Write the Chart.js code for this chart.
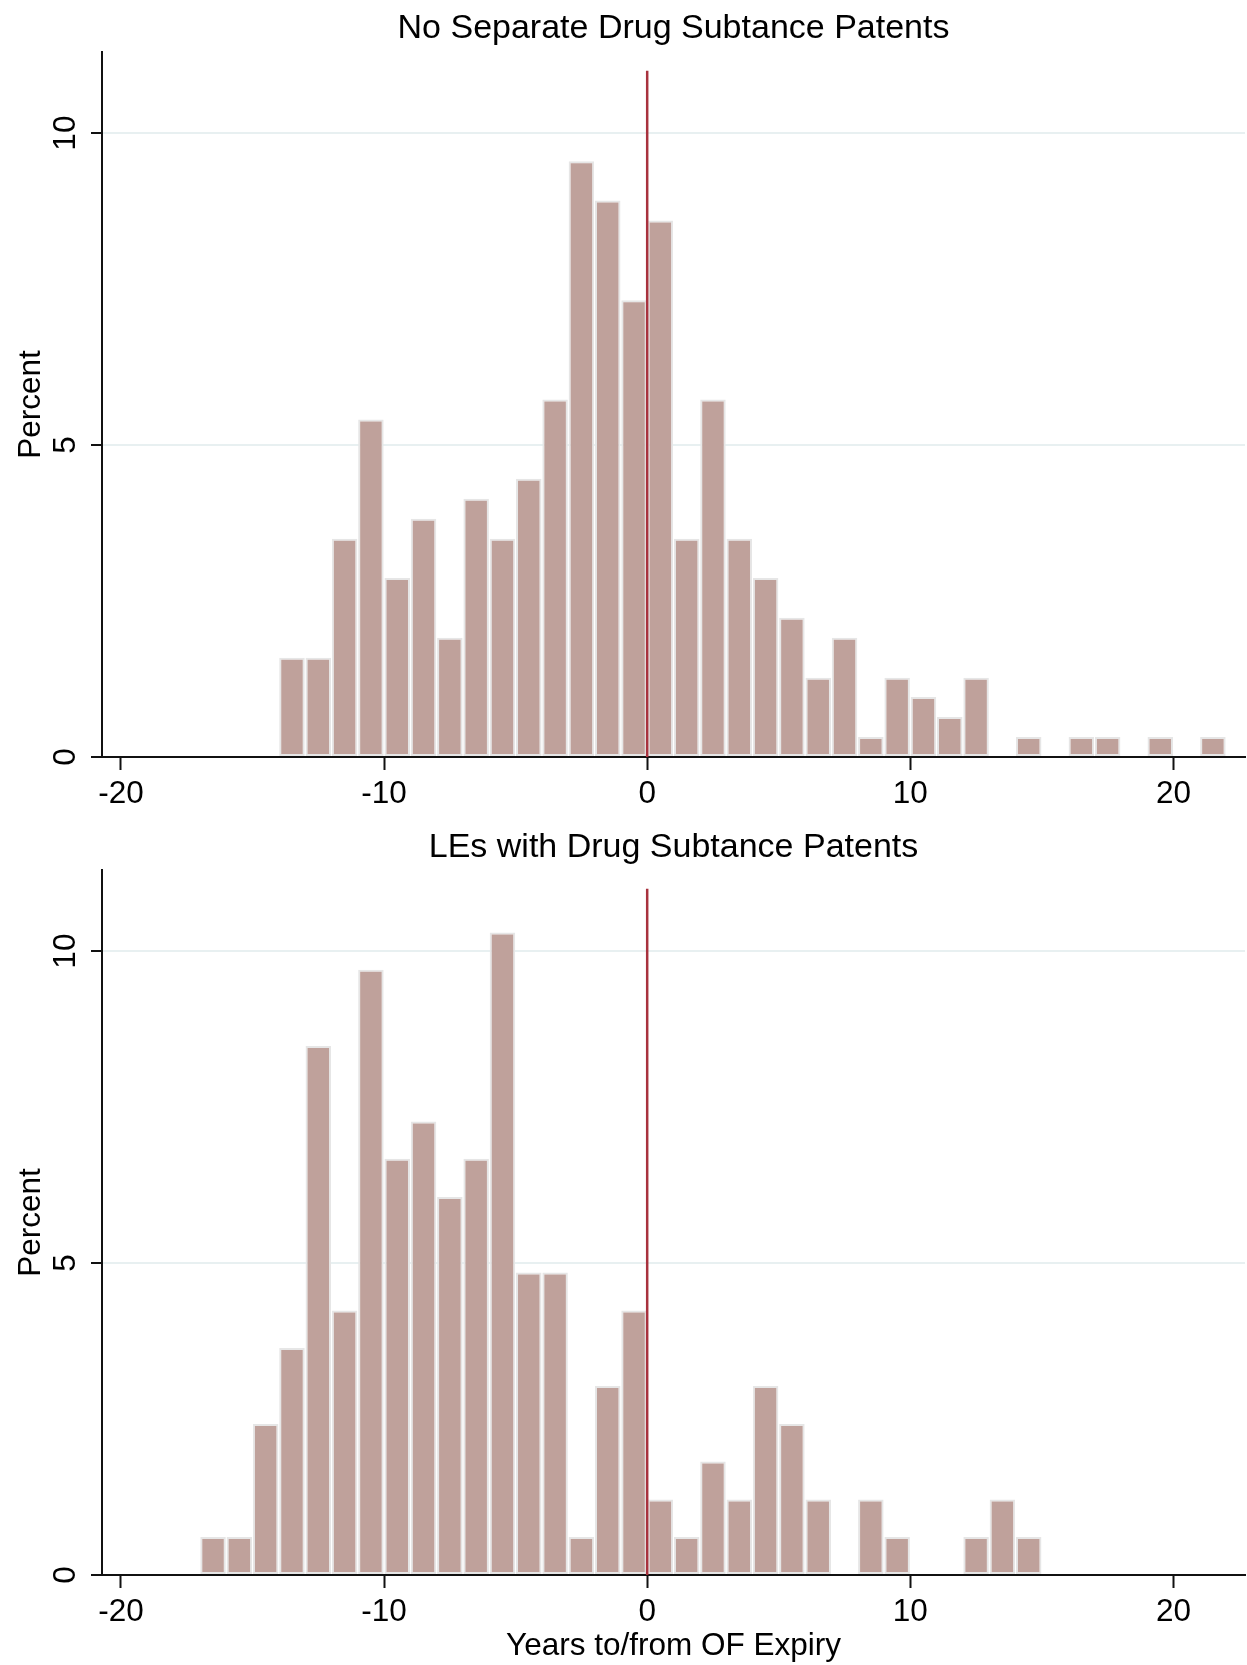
<!DOCTYPE html>
<html>
<head>
<meta charset="utf-8">
<script src="https://cdn.jsdelivr.net/npm/chart.js@4.4.1/dist/chart.umd.min.js"></script>
<style>
  body { margin: 0; background: #fff; width: 1247px; height: 1665px; position: relative; overflow: hidden; }
  canvas { position: absolute; left: 0; }
  #topChart { top: 0; }
  #bottomChart { top: 820px; }
</style>
</head>
<body>
<canvas id="topChart" width="1247" height="820"></canvas>
<canvas id="bottomChart" width="1247" height="845"></canvas>
<script>
// Bin centres (years to/from OF expiry, 1-year bins)
const topBins = [-13.5, -12.5, -11.5, -10.5, -9.5, -8.5, -7.5, -6.5, -5.5, -4.5, -3.5, -2.5,
    -1.5, -0.5, 0.5, 1.5, 2.5, 3.5, 4.5, 5.5, 6.5, 7.5, 8.5, 9.5, 10.5, 11.5, 12.5, 13.5,
    14.5, 15.5, 16.5, 17.5, 18.5, 19.5, 20.5, 21.5];
// Percent, no separate drug substance patents
const topPercent = [1.59, 1.59, 3.50, 5.41, 2.87, 3.82, 1.91, 4.14, 3.50, 4.46, 5.73, 9.55,
    8.92, 7.32, 8.60, 3.50, 5.73, 3.50, 2.87, 2.23, 1.27, 1.91, 0.32, 1.27, 0.96, 0.64, 1.27, null,
    0.32, null, 0.32, 0.32, null, 0.32, null, 0.32];

const bottomBins = [-16.5, -15.5, -14.5, -13.5, -12.5, -11.5, -10.5, -9.5, -8.5, -7.5, -6.5,
    -5.5, -4.5, -3.5, -2.5, -1.5, -0.5, 0.5, 1.5, 2.5, 3.5, 4.5, 5.5, 6.5, 7.5, 8.5, 9.5, 10.5,
    11.5, 12.5, 13.5, 14.5];
// Percent, LEs with drug substance patents
const bottomPercent = [0.61, 0.61, 2.42, 3.64, 8.48, 4.24, 9.70, 6.67, 7.27, 6.06, 6.67,
    10.30, 4.85, 4.85, 0.61, 3.03, 4.24, 1.21, 0.61, 1.82, 1.21, 3.03, 2.42, 1.21, null, 1.21, 0.61, null,
    null, 0.61, 1.21, 0.61];

const xTicks = [-20, -10, 0, 10, 20];
const yTicks = [0, 5, 10];
const xRange = [-20.72, 22.72];
const yMax = 11.3;
const expiryLine = [0, 11];   // vertical reference line at x = 0

const FONT = "'Liberation Sans', Arial, sans-serif";

// Draws titles, rotated y tick labels and axis titles
const textPlugin = {
    id: 'statText',
    afterDraw(chart, args, opts) {
        const ctx = chart.ctx;
        const area = chart.chartArea;
        const yScale = chart.scales.y;
        ctx.save();
        ctx.fillStyle = '#000';
        ctx.textAlign = 'center';
        ctx.textBaseline = 'alphabetic';

        // title
        ctx.font = '34px ' + FONT;
        ctx.fillText(opts.title, (area.left + area.right) / 2, opts.titleY);

        ctx.font = '31.5px ' + FONT;
        // y tick labels (read bottom to top)
        yTicks.forEach((v) => {
            const py = yScale.getPixelForValue(v);
            ctx.save();
            ctx.translate(75, py);
            ctx.rotate(-Math.PI / 2);
            ctx.fillText(String(v), 0, 0);
            ctx.restore();
        });

        // y axis title
        ctx.save();
        ctx.translate(40, (area.top + area.bottom) / 2);
        ctx.rotate(-Math.PI / 2);
        ctx.fillText('Percent', 0, 0);
        ctx.restore();

        // x axis title
        if (opts.xTitle) {
            ctx.fillText(opts.xTitle, (area.left + area.right) / 2, opts.xTitleY);
        }
        ctx.restore();
    }
};

function makeChart(id, bins, values, opts) {
    const barData = bins.map((b, i) => ({ x: b, y: values[i] }));

    const data = {
        datasets: [{
            type: 'line',
            data: [{ x: 0, y: expiryLine[0] }, { x: 0, y: expiryLine[1] }],
            borderColor: '#a8323e',
            borderWidth: 2.5,
            pointRadius: 0,
            order: 0
        }, {
            type: 'bar',
            data: barData,
            backgroundColor: '#bfa19b',
            borderColor: '#e6e6e6',
            borderWidth: 2,
            borderSkipped: false,
            barPercentage: 0.97,
            categoryPercentage: 1.0,
            order: 1
        }]
    };

    const config = {
        data: data,
        options: {
            responsive: false,
            animation: false,
            devicePixelRatio: 1,
            layout: { padding: { top: opts.padTop, right: 2, left: 0, bottom: 0 } },
            plugins: {
                legend: { display: false },
                tooltip: { enabled: false },
                statText: opts.text
            },
            scales: {
                x: {
                    type: 'linear',
                    min: xRange[0],
                    max: xRange[1],
                    offset: false,
                    z: 1,
                    afterBuildTicks: (scale) => { scale.ticks = xTicks.map(v => ({ value: v })); },
                    afterFit: (scale) => { scale.height = opts.xHeight; },
                    grid: {
                        display: true,
                        offset: false,
                        drawOnChartArea: false,
                        drawTicks: true,
                        tickLength: 13,
                        tickColor: '#111',
                        tickWidth: 2
                    },
                    border: { display: true, color: '#111', width: 2 },
                    ticks: {
                        color: '#000',
                        font: { family: FONT, size: 31.5 },
                        padding: 5,
                        maxRotation: 0,
                        autoSkip: false
                    }
                },
                y: {
                    type: 'linear',
                    min: 0,
                    max: yMax,
                    afterBuildTicks: (scale) => { scale.ticks = yTicks.map(v => ({ value: v })); },
                    afterFit: (scale) => { scale.width = 102; },
                    grid: {
                        color: '#e8f0f1',
                        lineWidth: 2,
                        drawTicks: true,
                        tickLength: 11,
                        tickColor: '#111',
                        tickWidth: 2
                    },
                    border: { display: true, color: '#111', width: 2 },
                    ticks: { display: false }
                }
            }
        },
        plugins: [textPlugin]
    };

    const ctx = document.getElementById(id).getContext('2d');
    return new Chart(ctx, config);
}

window['myChart1'] = makeChart('topChart', topBins, topPercent, {
    padTop: 52,
    xHeight: 63,
    text: { title: 'No Separate Drug Subtance Patents', titleY: 37.5 }
});

window['myChart2'] = makeChart('bottomChart', bottomBins, bottomPercent, {
    padTop: 50,
    xHeight: 90,
    text: {
        title: 'LEs with Drug Subtance Patents', titleY: 36.7,
        xTitle: 'Years to/from OF Expiry', xTitleY: 834.5
    }
});
</script>
</body>
</html>
